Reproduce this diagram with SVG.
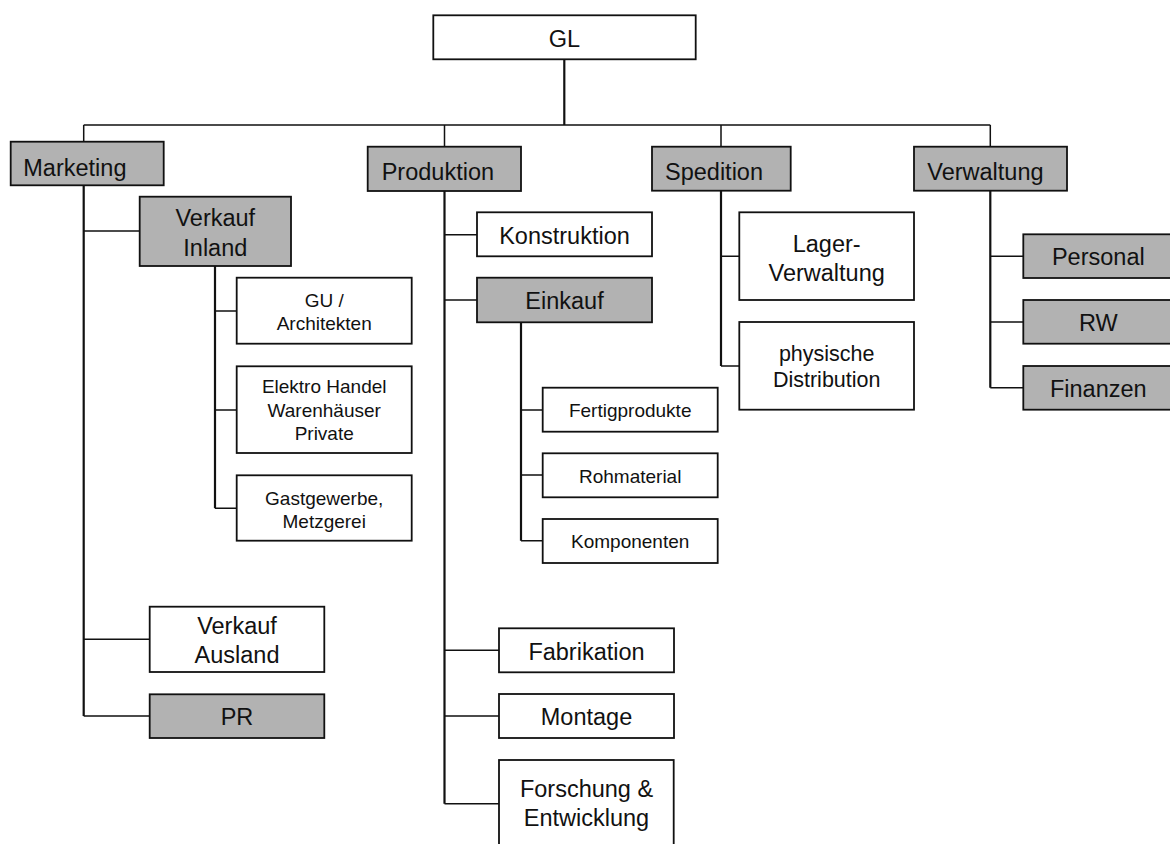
<svg xmlns="http://www.w3.org/2000/svg" width="1170" height="844" viewBox="0 0 1170 844">
<style>
.box{fill:#ffffff;stroke:#111111;stroke-width:1.8}
.g{fill:#b2b2b2}
.t{font-family:"Liberation Sans",Arial,sans-serif;font-size:23.5px;fill:#111111;text-anchor:middle}
.l{text-anchor:start}
.s{font-size:19px}
.m{font-size:21.5px}
.c{fill:none;stroke:#111111;stroke-width:1.5}
.tr{fill:none;stroke:#111111;stroke-width:2.2}
</style>
<rect width="1170" height="844" fill="#ffffff"/>
<g id="connectors">
<path class="tr" d="M564.3 59.3V125"/>
<path class="c" d="M83.7 125H990.3M83.7 125V141.7M444.5 125V146.7M721 125V146.7M990.3 125V146.7"/>
<path class="tr" d="M83.7 185.3V716M215 266V508.3M444.5 191V803.7M521 322.3V540.7M721 190.7V366M990.3 190.7V387.7"/>
<path class="c" d="M83.7 231H139.7M83.7 639.3H149.7M83.7 716H149.7"/>
<path class="c" d="M215 311H236.7M215 410H236.7M215 508.3H236.7"/>
<path class="c" d="M444.5 234.7H477M444.5 300H477M444.5 650.3H499M444.5 716H499M444.5 803.7H499"/>
<path class="c" d="M521 410H542.7M521 475H542.7M521 540.7H542.7"/>
<path class="c" d="M721 256.3H739.3M721 366H739.3"/>
<path class="c" d="M990.3 256.3H1023.3M990.3 322H1023.3M990.3 387.7H1023.3"/>
</g>
<g id="gl"><rect class="box" x="433.3" y="15.3" width="262.4" height="44"/><text class="t" x="564.5" y="47">GL</text></g>
<g id="marketing"><rect class="box g" x="10.7" y="141.7" width="153" height="43.6"/><text class="t l" x="23.3" y="175.7">Marketing</text></g>
<g id="produktion"><rect class="box g" x="367.7" y="146.7" width="153.3" height="44.3"/><text class="t l" x="381.7" y="180">Produktion</text></g>
<g id="spedition"><rect class="box g" x="652" y="146.7" width="138.7" height="44"/><text class="t l" x="665" y="180">Spedition</text></g>
<g id="verwaltung"><rect class="box g" x="914" y="146.7" width="153" height="44"/><text class="t l" x="927.3" y="180">Verwaltung</text></g>
<g id="verkauf-inland"><rect class="box g" x="139.7" y="196.7" width="151.3" height="69.3"/><text class="t" x="215.3" y="226">Verkauf</text><text class="t" x="215.3" y="255.7">Inland</text></g>
<g id="gu"><rect class="box" x="236.7" y="277.7" width="175" height="66"/><text class="t s" x="324.2" y="306.7">GU /</text><text class="t s" x="324.2" y="330">Architekten</text></g>
<g id="elektro"><rect class="box" x="236.7" y="366.3" width="175" height="86.7"/><text class="t s" x="324.2" y="393.3">Elektro Handel</text><text class="t s" x="324.2" y="416.7">Warenhäuser</text><text class="t s" x="324.2" y="440">Private</text></g>
<g id="gastgewerbe"><rect class="box" x="236.7" y="475.3" width="175" height="65.4"/><text class="t s" x="324.2" y="505">Gastgewerbe,</text><text class="t s" x="324.2" y="528">Metzgerei</text></g>
<g id="verkauf-ausland"><rect class="box" x="149.7" y="606.7" width="174.6" height="65.3"/><text class="t" x="237" y="634">Verkauf</text><text class="t" x="237" y="662.7">Ausland</text></g>
<g id="pr"><rect class="box g" x="149.7" y="694.3" width="174.6" height="43.7"/><text class="t" x="237" y="725">PR</text></g>
<g id="konstruktion"><rect class="box" x="477" y="212.3" width="175" height="44"/><text class="t" x="564.5" y="244">Konstruktion</text></g>
<g id="einkauf"><rect class="box g" x="477" y="277.7" width="175" height="44.6"/><text class="t" x="564.5" y="309">Einkauf</text></g>
<g id="fertigprodukte"><rect class="box" x="542.7" y="387.7" width="175" height="44"/><text class="t s" x="630.2" y="417">Fertigprodukte</text></g>
<g id="rohmaterial"><rect class="box" x="542.7" y="453.3" width="175" height="44"/><text class="t s" x="630.2" y="482.5">Rohmaterial</text></g>
<g id="komponenten"><rect class="box" x="542.7" y="519" width="175" height="44"/><text class="t s" x="630.2" y="548">Komponenten</text></g>
<g id="fabrikation"><rect class="box" x="499" y="628.3" width="175" height="44"/><text class="t" x="586.5" y="659.5">Fabrikation</text></g>
<g id="montage"><rect class="box" x="499" y="694" width="175" height="44"/><text class="t" x="586.5" y="724.7">Montage</text></g>
<g id="forschung"><rect class="box" x="499" y="760" width="174.7" height="100"/><text class="t" x="586.5" y="797.3">Forschung &amp;</text><text class="t" x="586.5" y="826">Entwicklung</text></g>
<g id="lager"><rect class="box" x="739.3" y="212.3" width="174.7" height="87.7"/><text class="t" x="826.7" y="251.7">Lager-</text><text class="t" x="826.7" y="281">Verwaltung</text></g>
<g id="distribution"><rect class="box" x="739.3" y="322" width="174.7" height="87.7"/><text class="t m" x="826.7" y="361">physische</text><text class="t m" x="826.7" y="386.7">Distribution</text></g>
<g id="personal"><rect class="box g" x="1023.3" y="234.3" width="150" height="43.7"/><text class="t" x="1098.3" y="265">Personal</text></g>
<g id="rw"><rect class="box g" x="1023.3" y="300" width="150" height="43.7"/><text class="t" x="1098.3" y="331">RW</text></g>
<g id="finanzen"><rect class="box g" x="1023.3" y="366" width="150" height="43.7"/><text class="t" x="1098.3" y="397">Finanzen</text></g>
</svg>
